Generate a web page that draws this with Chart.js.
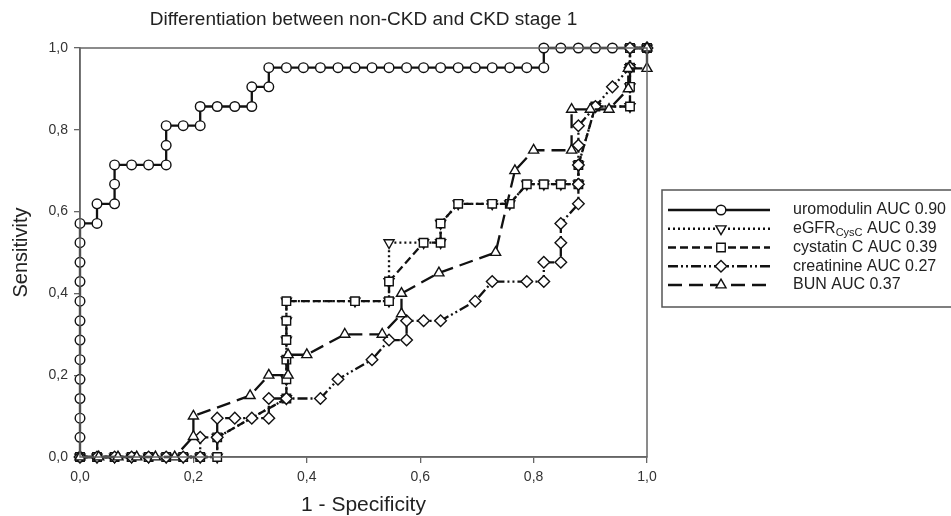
<!DOCTYPE html>
<html>
<head>
<meta charset="utf-8">
<title>Differentiation between non-CKD and CKD stage 1</title>
<script src="https://cdn.jsdelivr.net/npm/chart.js"></script>
<style>
  html, body { margin: 0; padding: 0; background: #fff; }
  #wrap { width: 951px; height: 516px; }
</style>
</head>
<body>
<div id="wrap"><canvas id="rocChart" width="951" height="516"></canvas></div>
<script>
// ROC curves: x = 1 - specificity, y = sensitivity
var seriesNames = ['uromodulin', 'eGFR', 'cystatin C', 'creatinine', 'BUN'];
var seriesSubs = ['', 'CysC', '', '', ''];
var aucValues = ['0.90', '0.39', '0.39', '0.27', '0.37'];
var tickLabels = ['0,0', '0,2', '0,4', '0,6', '0,8', '1,0'];

var uromodulinX = [0, 0, 0, 0, 0, 0, 0, 0, 0, 0, 0, 0, 0,
  0.030, 0.030, 0.061, 0.061, 0.061, 0.091, 0.121, 0.152, 0.152, 0.152, 0.182, 0.212, 0.212, 0.242, 0.273, 0.303, 0.303, 0.333, 0.333,
  0.364, 0.394, 0.424, 0.455, 0.485, 0.515, 0.545, 0.576, 0.606, 0.636, 0.667, 0.697, 0.727, 0.758, 0.788, 0.818,
  0.818, 0.848, 0.879, 0.909, 0.939, 0.970, 1.0];
var uromodulinY = [0, 0.048, 0.095, 0.143, 0.190, 0.238, 0.286, 0.333, 0.381, 0.429, 0.476, 0.524, 0.571,
  0.571, 0.619, 0.619, 0.667, 0.714, 0.714, 0.714, 0.714, 0.762, 0.810, 0.810, 0.810, 0.857, 0.857, 0.857, 0.857, 0.905, 0.905, 0.952,
  0.952, 0.952, 0.952, 0.952, 0.952, 0.952, 0.952, 0.952, 0.952, 0.952, 0.952, 0.952, 0.952, 0.952, 0.952, 0.952,
  1.0, 1.0, 1.0, 1.0, 1.0, 1.0, 1.0];

var egfrX = [0, 0.030, 0.061, 0.091, 0.121, 0.152, 0.182, 0.212, 0.242, 0.242,
  0.364, 0.364, 0.364, 0.364, 0.364, 0.364, 0.485, 0.545, 0.545, 0.545, 0.606, 0.636, 0.636, 0.667, 0.727, 0.758,
  0.788, 0.818, 0.848, 0.879, 0.879, 0.909, 0.970, 0.970, 0.970, 0.970, 1.0];
var egfrY = [0, 0, 0, 0, 0, 0, 0, 0, 0, 0.048,
  0.143, 0.190, 0.238, 0.286, 0.333, 0.381, 0.381, 0.381, 0.429, 0.524, 0.524, 0.524, 0.571, 0.619, 0.619, 0.619,
  0.667, 0.667, 0.667, 0.667, 0.714, 0.857, 0.857, 0.905, 0.952, 1.0, 1.0];

var cystatinX = [0, 0.030, 0.061, 0.091, 0.121, 0.152, 0.182, 0.212, 0.242, 0.242,
  0.364, 0.364, 0.364, 0.364, 0.364, 0.364, 0.485, 0.545, 0.545, 0.606, 0.636, 0.636, 0.667, 0.727, 0.758,
  0.788, 0.818, 0.848, 0.879, 0.879, 0.909, 0.970, 0.970, 0.970, 0.970, 1.0];
var cystatinY = [0, 0, 0, 0, 0, 0, 0, 0, 0, 0.048,
  0.143, 0.190, 0.238, 0.286, 0.333, 0.381, 0.381, 0.381, 0.429, 0.524, 0.524, 0.571, 0.619, 0.619, 0.619,
  0.667, 0.667, 0.667, 0.667, 0.714, 0.857, 0.857, 0.905, 0.952, 1.0, 1.0];

var creatinineX = [0, 0.030, 0.061, 0.091, 0.121, 0.152, 0.182, 0.212, 0.212, 0.242, 0.242, 0.273, 0.303, 0.333, 0.333, 0.364, 0.424,
  0.455, 0.515, 0.545, 0.576, 0.576, 0.606, 0.636, 0.697, 0.727, 0.788, 0.818, 0.818, 0.848, 0.848, 0.848,
  0.879, 0.879, 0.879, 0.879, 0.879, 0.909, 0.939, 0.970, 0.970, 1.0];
var creatinineY = [0, 0, 0, 0, 0, 0, 0, 0, 0.048, 0.048, 0.095, 0.095, 0.095, 0.095, 0.143, 0.143, 0.143,
  0.190, 0.238, 0.286, 0.286, 0.333, 0.333, 0.333, 0.381, 0.429, 0.429, 0.429, 0.476, 0.476, 0.524, 0.571,
  0.619, 0.667, 0.714, 0.762, 0.810, 0.857, 0.905, 0.952, 1.0, 1.0];

var bunX = [0, 0.033, 0.067, 0.100, 0.133, 0.167, 0.200, 0.200, 0.300, 0.333, 0.367, 0.367, 0.400, 0.467, 0.533,
  0.567, 0.567, 0.633, 0.733, 0.767, 0.800, 0.867, 0.867, 0.900, 0.933, 0.967, 0.967, 1.0, 1.0];
var bunY = [0, 0, 0, 0, 0, 0, 0.05, 0.10, 0.15, 0.20, 0.20, 0.25, 0.25, 0.30, 0.30,
  0.35, 0.40, 0.45, 0.50, 0.70, 0.75, 0.75, 0.85, 0.85, 0.85, 0.90, 0.95, 0.95, 1.0];

function toPoints(xs, ys) {
  return xs.map(function (x, i) { return { x: x, y: ys[i] }; });
}

function rocDataset(label, xs, ys, dash, style, radius, rotation, order) {
  return {
    label: label,
    data: toPoints(xs, ys),
    borderColor: '#111',
    borderWidth: 2.3,
    borderDash: dash,
    tension: 0,
    fill: false,
    pointStyle: style,
    pointRadius: radius,
    pointRotation: rotation,
    pointBackgroundColor: '#fff',
    pointBorderColor: '#111',
    pointBorderWidth: 1.4,
    clip: false,
    order: order
  };
}

Chart.defaults.font.family = '"Liberation Sans", Arial, sans-serif';
Chart.defaults.color = '#222';

// box round the plot area (top and right edges) and the boxed legend
var framePlugin = {
  id: 'frame',
  afterDraw: function (chart) {
    var ctx = chart.ctx, a = chart.chartArea;
    ctx.save();
    ctx.strokeStyle = '#666';
    ctx.lineWidth = 1.5;
    ctx.strokeRect(a.left, a.top, a.right - a.left, a.bottom - a.top);

    var left = a.right + 15, top = 190;
    ctx.strokeStyle = '#555';
    ctx.strokeRect(left, top, 330, 117);
    chart.data.datasets.forEach(function (ds, i) {
      var y = top + 20 + i * 18.75;
      ctx.setLineDash(ds.borderDash || []);
      ctx.lineWidth = ds.borderWidth;
      ctx.strokeStyle = ds.borderColor;
      ctx.beginPath();
      ctx.moveTo(left + 6, y);
      ctx.lineTo(left + 108, y);
      ctx.stroke();
      ctx.setLineDash([]);
      ctx.fillStyle = ds.pointBackgroundColor;
      ctx.strokeStyle = ds.pointBorderColor;
      ctx.lineWidth = ds.pointBorderWidth;
      Chart.helpers.drawPoint(ctx, {
        pointStyle: ds.pointStyle, rotation: ds.pointRotation, radius: ds.pointRadius, borderWidth: ds.pointBorderWidth
      }, left + 59, y);

      var tx = left + 131;
      ctx.fillStyle = '#222';
      ctx.textBaseline = 'middle';
      ctx.font = '16px "Liberation Sans", Arial, sans-serif';
      ctx.fillText(seriesNames[i], tx, y);
      tx += ctx.measureText(seriesNames[i]).width;
      if (seriesSubs[i]) {
        ctx.font = '11px "Liberation Sans", Arial, sans-serif';
        ctx.fillText(seriesSubs[i], tx, y + 4);
        tx += ctx.measureText(seriesSubs[i]).width;
        ctx.font = '16px "Liberation Sans", Arial, sans-serif';
      }
      ctx.fillText(' AUC ' + aucValues[i], tx, y);
    });
    ctx.restore();
  }
};

var axisLook = {
  grid: { drawOnChartArea: false, drawTicks: true, tickLength: 6, color: '#666', lineWidth: 1.3 },
  border: { display: true, color: '#666', width: 1.5 }
};

new Chart(document.getElementById('rocChart'), {
  type: 'line',
  data: {
    datasets: [
      rocDataset('uromodulin', uromodulinX, uromodulinY, [], 'circle', 4.8, 0, 4),
      rocDataset('eGFR', egfrX, egfrY, [2, 3], 'triangle', 5.8, 180, 3),
      rocDataset('cystatin C', cystatinX, cystatinY, [8, 4], 'rect', 6, 0, 2),
      rocDataset('creatinine', creatinineX, creatinineY, [10, 3, 2, 3, 2, 3], 'rectRot', 5.8, 0, 1),
      rocDataset('BUN', bunX, bunY, [14, 7], 'triangle', 5.8, 0, 0)
    ]
  },
  options: {
    responsive: false,
    animation: false,
    layout: { padding: { left: 0, right: 304, top: 0, bottom: 0 } },
    plugins: {
      legend: { display: false },
      tooltip: { enabled: false },
      title: {
        display: true,
        fullSize: false,
        text: 'Differentiation between non-CKD and CKD stage 1',
        font: { size: 19, weight: 'normal', lineHeight: 1.2 },
        color: '#222',
        padding: { top: 8, bottom: 17.2 }
      }
    },
    scales: {
      x: {
        type: 'linear', min: 0, max: 1,
        ticks: { stepSize: 0.2, padding: 6, font: { size: 14 }, color: '#333',
          callback: function (v, i) { return tickLabels[i]; } },
        grid: axisLook.grid, border: axisLook.border,
        title: { display: true, text: '1 - Specificity', font: { size: 21, lineHeight: 1 }, padding: 0, color: '#222' },
        afterFit: function (s) { s.height = 59; }
      },
      y: {
        type: 'linear', min: 0, max: 1,
        ticks: { stepSize: 0.2, padding: 6, font: { size: 14 }, color: '#333',
          callback: function (v, i) { return tickLabels[i]; } },
        grid: axisLook.grid, border: axisLook.border,
        title: { display: true, text: 'Sensitivity', font: { size: 20, lineHeight: 1 }, padding: { top: 11, bottom: 0 }, color: '#222' },
        afterFit: function (s) { s.width = 80; }
      }
    }
  },
  plugins: [framePlugin]
});
</script>
</body>
</html>
